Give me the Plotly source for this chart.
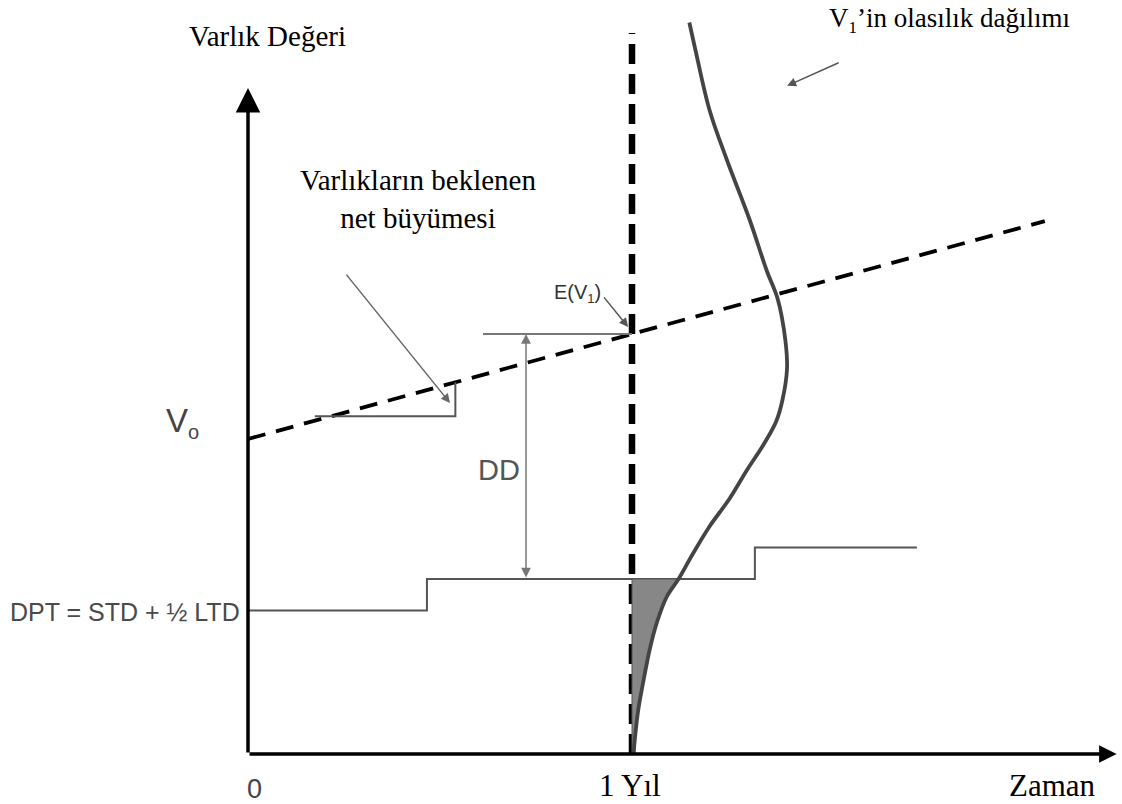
import plotly.graph_objects as go

# ---- model inputs -------------------------------------------------------
V0 = 90.0             # asset value today
GROWTH = 30.0         # expected net asset growth per year
HORIZON = 1.0         # forecast horizon in years
GROWTH_END = 2.075    # last year shown on the growth line

# default point: short-term debt + half of long-term debt, stepping over time
DPT_TIMES = [0.0, 0.466, 1.32, 1.742]
DPT_LEVELS = [41.0, 50.0, 59.0, 59.0]
DPT_AT_HORIZON = 50.0

# an earlier step in the asset path
ASSET_STEP_TIMES = [0.174, 0.54]
ASSET_STEP_LEVELS = [96.5, 106.2]

# probability distribution of V1 (relative density by asset value level)
DIST_VALUES = [0, 5, 12.5, 20, 30, 37.5, 45, 50, 57, 65, 73, 81, 88.5, 95,
               101, 110, 118, 130, 138, 152.5, 170, 184, 201, 209]
DIST_DENSITY = [0.01, 0.02, 0.04, 0.07, 0.115, 0.16, 0.225, 0.30, 0.39, 0.50,
                0.63, 0.74, 0.85, 0.93, 0.97, 1.00, 0.99, 0.94, 0.87, 0.76,
                0.61, 0.50, 0.41, 0.37]

# axis labels
TIME_TICKS = [0.0, HORIZON]
TIME_TICK_TEXT = ["0", "1 Yıl"]

# ---- drawing scales -----------------------------------------------------
PX_PER_YEAR = 384.0
PX_PER_UNIT = 3.5
ORIGIN_X, ORIGIN_Y = 248.0, 754.0
W, H = 1122, 804
X_RANGE = [-ORIGIN_X / PX_PER_YEAR, (W - ORIGIN_X) / PX_PER_YEAR]
Y_RANGE = [-(H - ORIGIN_Y) / PX_PER_UNIT, ORIGIN_Y / PX_PER_UNIT]
DIST_WIDTH = 155.0 / PX_PER_YEAR   # horizontal extent of density peak
Y_AXIS_TOP = 190.3
X_AXIS_END = 2.262
HORIZON_LINE_TOP = 206.0

SERIF = "Liberation Serif, Times New Roman, serif"
SANS = "Liberation Sans, Arial, sans-serif"

E_V1 = V0 + GROWTH * HORIZON

fig = go.Figure()

# expected growth of assets
fig.add_trace(go.Scatter(
    x=[0.0, GROWTH_END], y=[V0, V0 + GROWTH * GROWTH_END], mode="lines",
    line=dict(color="black", width=3.8, dash="18px,11px")))

# one-year horizon
fig.add_trace(go.Scatter(
    x=[HORIZON, HORIZON], y=[0, HORIZON_LINE_TOP], mode="lines",
    line=dict(color="black", width=6.5, dash="20px,10px")))

# default point steps
fig.add_trace(go.Scatter(
    x=DPT_TIMES, y=DPT_LEVELS, mode="lines", line_shape="hv",
    line=dict(color="#555555", width=2)))

# earlier asset step
fig.add_trace(go.Scatter(
    x=ASSET_STEP_TIMES, y=ASSET_STEP_LEVELS, mode="lines", line_shape="hv",
    line=dict(color="#555555", width=2)))

# expected value level at the horizon
fig.add_trace(go.Scatter(
    x=[0.612, HORIZON], y=[E_V1, E_V1], mode="lines",
    line=dict(color="#777777", width=2)))

# default probability region (tail of the distribution below DPT)
tail = [(v, d) for v, d in zip(DIST_VALUES, DIST_DENSITY) if v <= DPT_AT_HORIZON]
tail_x = [HORIZON + d * DIST_WIDTH for v, d in tail] + [HORIZON, HORIZON]
tail_y = [v for v, d in tail] + [tail[-1][0], tail[0][0]]
fig.add_trace(go.Scatter(
    x=tail_x, y=tail_y, mode="lines", fill="toself", fillcolor="#878787",
    line=dict(color="#555555", width=1)))

# distribution curve of V1
fig.add_trace(go.Scatter(
    x=[HORIZON + d * DIST_WIDTH for d in DIST_DENSITY], y=DIST_VALUES,
    mode="lines", line_shape="spline",
    line=dict(color="#444444", width=3.8)))

ann = []


def arrow(x, y, ax, ay, color, width, head=2, size=1.0, side="end"):
    ann.append(dict(x=x, y=y, ax=ax, ay=ay, xref="x", yref="y", axref="x",
                    ayref="y", text="", showarrow=True, arrowhead=head,
                    startarrowhead=head, arrowsize=size, startarrowsize=size,
                    arrowwidth=width, arrowcolor=color, arrowside=side,
                    standoff=0, startstandoff=0))


def label(x, y, text, font, size, color="black", xanchor="center"):
    ann.append(dict(x=x, y=y, xref="x", yref="y", text=text, showarrow=False,
                    xanchor=xanchor, yanchor="middle",
                    font=dict(family=font, size=size, color=color)))


# axes with arrow heads
arrow(0, Y_AXIS_TOP, 0, 0, "black", 3.5, size=1.4)
arrow(X_AXIS_END, 0, 0, 0, "black", 3.5, size=1.0)

# pointers
arrow(1.404, 190.9, 1.542, 197.7, "#555555", 1.5, size=1.2)
arrow(0.526, 100.3, 0.253, 137.4, "#666666", 1.5, size=1.2)
arrow(0.99, 122.0, 0.924, 130.9, "#555555", 1.5, size=1.2)
arrow(0.724, E_V1, 0.724, DPT_AT_HORIZON, "#777777", 1.5, size=1.3,
      side="end+start")

# text
label(0.05, 205.2, "Varlık Değeri", SERIF, 29)
label(1.828, 209.6,
      "V<sub><span style='font-size:17px'>1</span></sub>’in olasılık dağılımı",
      SERIF, 27)
label(0.443, 158.6, "Varlıkların beklenen<br>net büyümesi", SERIF, 29)
label(-0.17, 94.6, "V<sub><span style='font-size:20px'>o</span></sub>",
      SANS, 33, "#444444")
label(-0.016, 40.6, "DPT = STD + ½ LTD", SANS, 25, "#4a4a4a", xanchor="right")
label(0.654, 81.1, "DD", SANS, 29, "#555555")
label(0.859, 131.6,
      "E(V<sub><span style='font-size:13px'>1</span></sub>)", SANS, 20,
      "#333333")
label(TIME_TICKS[0] + 0.016, -9.9, TIME_TICK_TEXT[0], SANS, 27, "#444444")
label(TIME_TICKS[1] - 0.005, -9.1, TIME_TICK_TEXT[1], SERIF, 31)
label(2.094, -9.1, "Zaman", SERIF, 31)

fig.update_layout(
    width=W, height=H, margin=dict(l=0, r=0, t=0, b=0),
    paper_bgcolor="white", plot_bgcolor="white", showlegend=False,
    xaxis=dict(range=X_RANGE, visible=False, fixedrange=True),
    yaxis=dict(range=Y_RANGE, visible=False, fixedrange=True),
    annotations=ann,
)

fig.write_html("out.html")
